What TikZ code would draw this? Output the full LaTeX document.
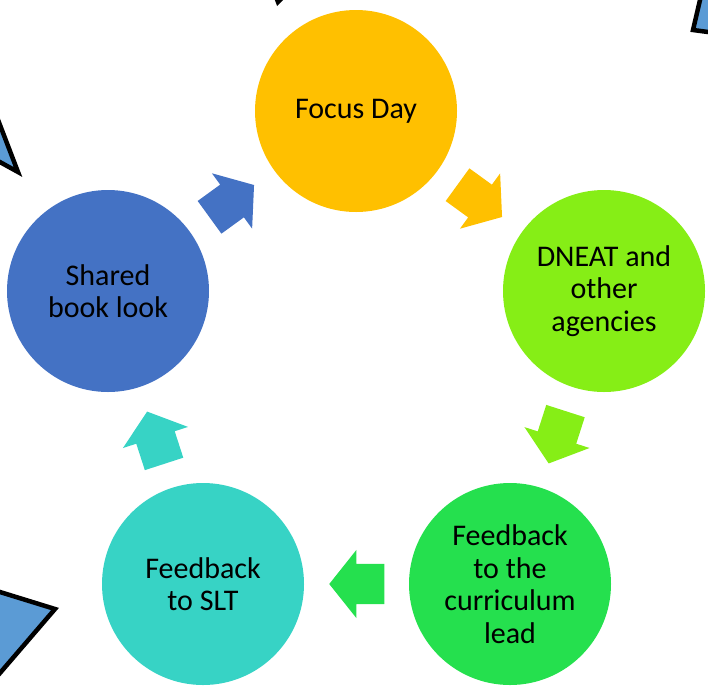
\documentclass[tikz,border=0pt]{standalone}
\usepackage{fontspec}
\setmainfont{Carlito}
\usetikzlibrary{calc,shapes.arrows}

\definecolor{focusc}{HTML}{FFC000}
\definecolor{dneatc}{HTML}{86EE16}
\definecolor{leadc}{HTML}{25E04E}
\definecolor{sltc}{HTML}{37D3C5}
\definecolor{bookc}{HTML}{4472C4}
\definecolor{cornerc}{HTML}{5B9BD5}

\tikzset{
    stage/.style={circle, minimum size=202pt, inner sep=0pt, align=center,
        font=\fontsize{30}{32.5}\selectfont},
    cyclearrow/.style={single arrow, minimum height=55pt, inner xsep=0pt, inner ysep=20pt,
        single arrow head extend=14pt, single arrow tip angle=103, anchor=tip},
    corner/.style={fill=cornerc, draw=black, line width=4.5pt, line join=miter}
}

\begin{document}
\begin{tikzpicture}[x=1pt, y=-1pt]
                \useasboundingbox (0,0) rectangle (708,691);
                \clip (0,0) rectangle (708,691);

                \filldraw[corner] (18,172) -- (-18,78) -- (-60,129) -- cycle;
                \filldraw[corner] (693,30) -- (707,-30) -- (753,38) -- cycle;
                \filldraw[corner] (278,2) -- (262,-40) -- (310,-30) -- cycle;
                \filldraw[corner] (55,609) -- (-55,575) -- (-55,737) -- cycle;

                \node[stage, fill=focusc] (focus) at (356,111) {Focus Day};
                \node[stage, fill=dneatc] (dneat) at (604,291) {DNEAT and\\other\\agencies};
                \node[stage, fill=leadc] (lead) at (510,584) {Feedback\\to the\\curriculum\\lead};
                \node[stage, fill=sltc] (slt) at (203,584) {Feedback\\to SLT};
                \node[stage, fill=bookc] (book) at (108,291) {Shared\\book look};

                \path let \p1=($(dneat)-(focus)$) in
                    node[cyclearrow, fill=focusc, rotate={atan2(\y1,\x1)}] (a1)
                    at ($($(focus)!0.5!(dneat)$)!27.5pt!(dneat)$) {};
                \path let \p1=($(lead)-(dneat)$) in
                    node[cyclearrow, fill=dneatc, rotate={atan2(\y1,\x1)}] (a2)
                    at ($($(dneat)!0.5!(lead)$)!27.5pt!(lead)$) {};
                \path let \p1=($(slt)-(lead)$) in
                    node[cyclearrow, fill=leadc, rotate={atan2(\y1,\x1)}] (a3)
                    at ($($(lead)!0.5!(slt)$)!27.5pt!(slt)$) {};
                \path let \p1=($(book)-(slt)$) in
                    node[cyclearrow, fill=sltc, rotate={atan2(\y1,\x1)}] (a4)
                    at ($($(slt)!0.5!(book)$)!27.5pt!(book)$) {};
                \path let \p1=($(focus)-(book)$) in
                    node[cyclearrow, fill=bookc, rotate={atan2(\y1,\x1)}] (a5)
                    at ($($(book)!0.5!(focus)$)!27.5pt!(focus)$) {};
            \end{tikzpicture}
\end{document}
